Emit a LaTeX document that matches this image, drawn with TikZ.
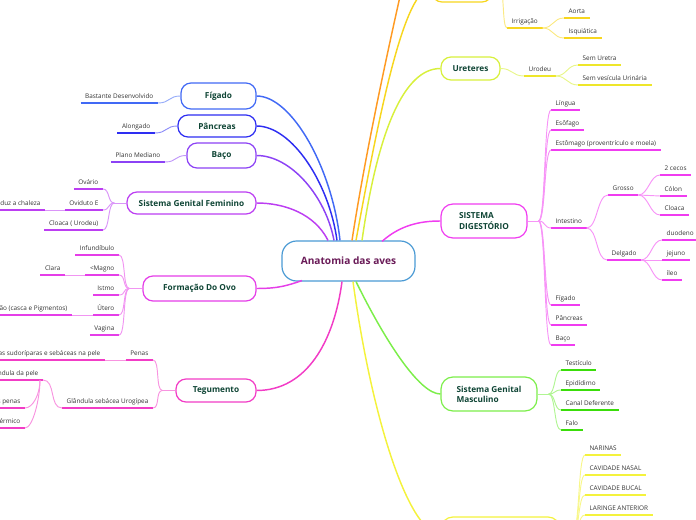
\documentclass[tikz,border=0pt]{standalone}
\usepackage{fontspec}
\setmainfont{Open Sans}
\usetikzlibrary{calc}
\definecolor{ntext}{HTML}{0F4535}
\definecolor{ctext}{HTML}{6A1B58}
\definecolor{ltext}{HTML}{333333}
\definecolor{cCen}{HTML}{4A9AD4}
\definecolor{cFig}{HTML}{4169F5}
\definecolor{cPan}{HTML}{2E2EF2}
\definecolor{cBac}{HTML}{8C42F5}
\definecolor{cSGF}{HTML}{BC3EF2}
\definecolor{cOvo}{HTML}{E53EE8}
\definecolor{cTeg}{HTML}{F23CC6}
\definecolor{cOrg}{HTML}{FF9A22}
\definecolor{cTop}{HTML}{F7D61E}
\definecolor{cUre}{HTML}{D8F03C}
\definecolor{cUreU}{HTML}{EEE62A}
\definecolor{cSD}{HTML}{F03CF0}
\definecolor{cSGM}{HTML}{7CEE4A}
\definecolor{cSGMu}{HTML}{3ADD0A}
\definecolor{cBot}{HTML}{F4F23C}
\begin{document}
\begin{tikzpicture}[x=0.75pt,y=-0.75pt,
  topic/.style={draw=#1, fill=white, rounded corners=7.5pt, line width=0.9pt,
    font=\fontsize{6.2}{7.6}\selectfont\bfseries, text=ntext, inner sep=0pt, align=center},
  leafR/.style={anchor=south west, inner xsep=3.3pt, inner ysep=3pt, text depth=0pt,
    font=\fontsize{4.8}{5.7}\selectfont, text=ltext,
    append after command={(\tikzlastnode.south west) edge[draw=#1, line width=1.1pt] (\tikzlastnode.south east)}},
  leafL/.style={leafR=#1, anchor=south east},
  lk/.style={to path={.. controls +(#1,0) and +(-#1,0) .. (\tikztotarget)}},
  conn/.style={line width=0.7pt},
  main/.style={line width=1.1pt}]
\useasboundingbox (0,0) rectangle (696,520);
\clip (0,0) rectangle (696,520);

% ---------- main topics ----------
\node[topic=cCen, minimum width=99.75pt, minimum height=30pt, rounded corners=11pt,
  font=\fontsize{7.6}{9}\selectfont\bfseries, text=ctext] (root) at (348.5,261) {Anatomia das aves};
\node[topic=cFig, minimum width=56.25pt, minimum height=19.5pt] (fig) at (218.5,96) {Fígado};
\node[topic=cPan, minimum width=58.5pt, minimum height=16.5pt] (pan) at (217,126) {Pâncreas};
\node[topic=cBac, minimum width=51.75pt, minimum height=18.75pt] (bac) at (221.5,155.5) {Baço};
\node[topic=cSGF, minimum width=96.75pt, minimum height=16.5pt] (sgf) at (191.5,203) {Sistema Genital Feminino};
\node[topic=cOvo, minimum width=84.75pt, minimum height=18.75pt] (ovo) at (199.5,288.5) {Formação Do Ovo};
\node[topic=cTeg, minimum width=60pt, minimum height=17.25pt] (teg) at (216,390.5) {Tegumento};
\node[topic=cTop, minimum width=45pt, minimum height=21pt] (top) at (462,-12) {};
\node[topic=cUre, minimum width=44.25pt, minimum height=17.25pt] (ure) at (470.5,68.5) {Ureteres};
\node[topic=cSD, minimum width=64.5pt, minimum height=25.5pt, align=left, rounded corners=9pt] (sd) at (484,221) {SISTEMA\\DIGESTÓRIO};
\node[topic=cSGM, minimum width=72pt, minimum height=25.5pt, align=left, rounded corners=9pt] (sgm) at (489,394) {Sistema Genital\\Masculino};
\node[topic=cBot, minimum width=89.25pt, minimum height=25.5pt, rounded corners=9pt] (bot) at (500.5,534) {};
\coordinate (orgend) at (406,-30);

% ---------- main connectors ----------
\draw[main, cFig] ($(root.north)+(-8.5,0)$) .. controls +(-8,-73) and +(35,0) .. (fig.east);
\draw[main, cPan] ($(root.north)+(-11.5,0)$) .. controls +(-8,-58) and +(35,0) .. (pan.east);
\draw[main, cBac] ($(root.north)+(-14.5,0)$) .. controls +(-8,-43) and +(35,0) .. (bac.east);
\draw[main, cSGF] ($(root.north)+(-20.5,0)$) .. controls +(-13,-26) and +(29,0) .. (sgf.east);
\draw[main, cOvo] ($(root.south)+(-46.5,-1)$) .. controls +(-15,5) and +(22,0) .. (ovo.east);
\draw[main, cTeg] ($(root.south)+(-6.5,0)$) .. controls +(-8,60) and +(50,0) .. (teg.east);
\draw[main, cOrg] ($(root.north)+(3.5,0)$) .. controls +(14,-91) and +(-16,70) .. (orgend);
\draw[main, cTop] ($(root.north)+(7.5,0)$) .. controls +(24,-131) and +(-27,0) .. (top.west);
\draw[main, cUre] ($(root.north)+(13.5,0)$) .. controls +(16,-111) and +(-36,0) .. (ure.west);
\draw[main, cSD] ($(root.north)+(33.5,1)$) .. controls +(18,-16) and +(-21,0) .. (sd.west);
\draw[main, cSGM] ($(root.south)+(7.5,0)$) .. controls +(29,59) and +(-21,0) .. (sgm.west);
\draw[main, cBot] ($(root.south)+(4.5,0)$) .. controls +(19,139) and +(-31,0) .. (bot.west);

% ---------- left leaves ----------
\node[leafL=cFig] (bdes) at (158,103) {Bastante Desenvolvido};
\node[leafL=cPan] (along) at (155,133) {Alongado};
\node[leafL=cBac] (plano) at (165,162) {Plano Mediano};
\draw[conn, cFig!55] (fig.west) to[lk=-12] (bdes.south east);
\draw[conn, cPan!55] (pan.west) to[lk=-12] (along.south east);
\draw[conn, cBac!55] (bac.west) to[lk=-12] (plano.south east);

\node[leafL=cSGF] (ovar) at (103,189) {Ovário};
\node[leafL=cSGF] (ovid) at (103,210) {Oviduto E};
\node[leafL=cSGF] (prod) at (45,210) {Produz a chaleza};
\node[leafL=cSGF] (cloa) at (103,230) {Cloaca ( Urodeu)};
\coordinate (jsgf) at ($(sgf.west)+(-12,0)$);
\draw[conn, cSGF!55] (sgf.west) -- (jsgf);
\draw[conn, cSGF!55] (jsgf) to[lk=-7] (ovar.south east);
\draw[conn, cSGF!55] (jsgf) to[lk=-7] (ovid.south east);
\draw[conn, cSGF!55] (jsgf) to[lk=-7] (cloa.south east);
\draw[conn, cSGF!55] (ovid.south west) -- (prod.south east);

\node[leafL=cOvo] (infu) at (119,255) {Infundíbulo};
\node[leafL=cOvo] (magn) at (119,275) {<Magno};
\node[leafL=cOvo] (clar) at (65,275) {Clara};
\node[leafL=cOvo] (istm) at (119,295) {Istmo};
\node[leafL=cOvo] (uter) at (119,315) {Útero};
\node[leafL=cOvo] (calc) at (72,315) {Calcificação (casca e Pigmentos)};
\node[leafL=cOvo] (vagi) at (119,335) {Vagina};
\coordinate (jovo) at ($(ovo.west)+(-13,0)$);
\draw[conn, cOvo!55] (ovo.west) -- (jovo);
\foreach \n in {infu,magn,istm,uter,vagi}
  \draw[conn, cOvo!55] (jovo) to[lk=-7] (\n.south east);
\draw[conn, cOvo!55] (magn.south west) -- (clar.south east);
\draw[conn, cOvo!55] (uter.south west) -- (calc.south east);

\node[leafL=cTeg] (pena) at (153,360) {Penas};
\node[leafL=cTeg] (semg) at (105,360) {Sem glândulas sudoríparas e sebáceas na pele};
\node[leafL=cTeg] (glan) at (153,408) {Glândula sebácea Urogípea};
\node[leafL=cTeg] (unic) at (43,380) {Única glândula da pele};
\node[leafL=cTeg] (impe) at (25,408) {Impermeabilização das penas};
\node[leafL=cTeg] (isol) at (25,428) {Isolante térmico};
\coordinate (jteg) at ($(teg.west)+(-13,0)$);
\draw[conn, cTeg!55] (teg.west) -- (jteg);
\draw[conn, cTeg!55] (jteg) to[lk=-7] (pena.south east);
\draw[conn, cTeg!55] (jteg) to[lk=-7] (glan.south east);
\draw[conn, cTeg!55] (pena.south west) -- (semg.south east);
\draw[conn, cTeg!55] (glan.south west) to[lk=-13] (unic.south east);
\coordinate (junic) at ($(unic.south east)+(-3,0)$);
\draw[conn, cTeg!55] (junic) .. controls +(0,14) and +(8,0) .. (impe.south east);
\draw[conn, cTeg!55] (junic) .. controls +(0,18) and +(8,0) .. (isol.south east);

% ---------- right: top yellow ----------
\node[leafR=cTop] (irri) at (507,28) {Irrigação};
\node[leafR=cTop] (aort) at (564,18) {Aorta};
\node[leafR=cTop] (isqu) at (564,38) {Isquiática};
\coordinate (jtop) at ($(top.east)+(7,0)$);
\draw[conn, cTop!55] (top.east) -- (jtop);
\draw[conn, cTop!55] (jtop) to[lk=5] (irri.south west);
\draw[conn, cTop!55] (irri.south east) to[lk=11] (aort.south west);
\draw[conn, cTop!55] (irri.south east) to[lk=11] (isqu.south west);

% ---------- Ureteres ----------
\node[leafR=cUreU] (urod) at (524,76) {Urodeu};
\node[leafR=cUreU] (semu) at (578,65) {Sem Uretra};
\node[leafR=cUreU] (semv) at (578,85) {Sem vesícula Urinária};
\draw[conn, cUre!60] (ure.east) to[lk=12] (urod.south west);
\draw[conn, cUre!60] (urod.south east) to[lk=11] (semu.south west);
\draw[conn, cUre!60] (urod.south east) to[lk=11] (semv.south west);

% ---------- Sistema digestorio ----------
\node[leafR=cSD] (ling) at (551,110) {Língua};
\node[leafR=cSD] (esof) at (551,130) {Esôfago};
\node[leafR=cSD] (esto) at (551,150) {Estômago (proventrículo e moela)};
\node[leafR=cSD] (inte) at (551,228) {Intestino};
\node[leafR=cSD] (gros) at (608,195) {Grosso};
\node[leafR=cSD] (ceco) at (660,175) {2 cecos};
\node[leafR=cSD] (colo) at (660,196) {Cólon};
\node[leafR=cSD] (cloc) at (660,215) {Cloaca};
\node[leafR=cSD] (delg) at (607,260) {Delgado};
\node[leafR=cSD] (duod) at (662,240) {duodeno};
\node[leafR=cSD] (jeju) at (662,260) {jejuno};
\node[leafR=cSD] (ileo) at (662,280) {íleo};
\node[leafR=cSD] (figd) at (551,305) {Fígado};
\node[leafR=cSD] (panc) at (551,325) {Pâncreas};
\node[leafR=cSD] (bacd) at (551,345) {Baço};
\coordinate (jsd) at ($(sd.east)+(11,0)$);
\draw[conn, cSD!55] (sd.east) -- (jsd);
\foreach \n in {ling,esof,esto,inte,figd,panc,bacd}
  \draw[conn, cSD!55] (jsd) to[lk=7] (\n.south west);
\draw[conn, cSD!55] (inte.south east) to[lk=11] (gros.south west);
\draw[conn, cSD!55] (inte.south east) to[lk=11] (delg.south west);
\foreach \n in {ceco,colo,cloc}
  \draw[conn, cSD!55] (gros.south east) to[lk=10] (\n.south west);
\foreach \n in {duod,jeju,ileo}
  \draw[conn, cSD!55] (delg.south east) to[lk=10] (\n.south west);

% ---------- Sistema genital masculino ----------
\node[leafR=cSGMu] (test) at (561,370) {Testículo};
\node[leafR=cSGMu] (epid) at (561,390) {Epidídimo};
\node[leafR=cSGMu] (cana) at (561,410) {Canal Deferente};
\node[leafR=cSGMu] (falo) at (561,430) {Falo};
\coordinate (jsgm) at ($(sgm.east)+(11,0)$);
\draw[conn, cSGM!60] (sgm.east) -- (jsgm);
\foreach \n in {test,epid,cana,falo}
  \draw[conn, cSGM!60] (jsgm) to[lk=7] (\n.south west);

% ---------- bottom yellow ----------
\node[leafR=cBot] (nari) at (585,455) {NARINAS};
\node[leafR=cBot] (cavn) at (585,475) {CAVIDADE NASAL};
\node[leafR=cBot] (cavb) at (585,495) {CAVIDADE BUCAL};
\node[leafR=cBot] (lari) at (585,515) {LARINGE ANTERIOR};
\coordinate (jbot) at ($(bot.east)+(12,0)$);
\draw[conn, cBot!60] (bot.east) -- (jbot);
\foreach \n in {nari,cavn,cavb,lari}
  \draw[conn, cBot!60] (jbot) to[lk=7] (\n.south west);
\end{tikzpicture}
\end{document}
